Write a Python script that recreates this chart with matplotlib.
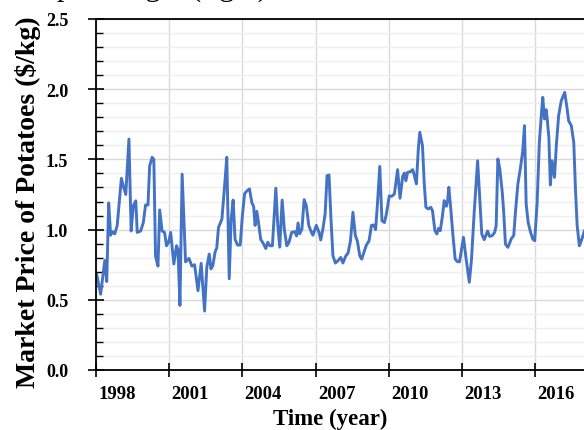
import matplotlib
matplotlib.use("Agg")
import matplotlib.pyplot as plt
from matplotlib.ticker import MultipleLocator, FixedLocator, NullFormatter

# monthly-ish market price of potatoes
time_year = [
    1998.03, 1998.19, 1998.36, 1998.44, 1998.52, 1998.60, 1998.67, 1998.77, 1998.87,
    1999.04, 1999.12, 1999.22, 1999.35, 1999.44, 1999.53, 1999.63, 1999.69, 1999.83, 1999.94,
    2000.03, 2000.13, 2000.20, 2000.30, 2000.37, 2000.44, 2000.54, 2000.61, 2000.71, 2000.81,
    2000.89, 2000.98, 2001.06, 2001.19, 2001.30, 2001.36, 2001.44, 2001.53, 2001.67, 2001.81,
    2001.93, 2002.04, 2002.18, 2002.31, 2002.45, 2002.54, 2002.64, 2002.71, 2002.79, 2002.88,
    2002.95, 2003.02, 2003.16, 2003.27, 2003.36, 2003.46, 2003.54, 2003.62, 2003.70, 2003.80,
    2003.91, 2004.00, 2004.09, 2004.18, 2004.29, 2004.39, 2004.46, 2004.52, 2004.59, 2004.66,
    2004.75, 2004.86, 2004.96, 2005.04, 2005.13, 2005.23, 2005.37, 2005.45, 2005.53, 2005.63,
    2005.72, 2005.82, 2005.91, 2006.02, 2006.15, 2006.22, 2006.28, 2006.35, 2006.44, 2006.53,
    2006.62, 2006.72, 2006.83, 2006.89, 2007.03, 2007.14, 2007.21, 2007.30, 2007.39, 2007.47,
    2007.55, 2007.63, 2007.71, 2007.81, 2007.92, 2008.03, 2008.12, 2008.23, 2008.33, 2008.43,
    2008.53, 2008.63, 2008.71, 2008.81, 2008.89, 2008.98, 2009.08, 2009.19, 2009.29, 2009.38,
    2009.46, 2009.53, 2009.63, 2009.72, 2009.82, 2009.90, 2010.02, 2010.12, 2010.23, 2010.36,
    2010.46, 2010.57, 2010.64, 2010.70, 2010.77, 2010.88, 2010.98, 2011.05, 2011.13, 2011.21,
    2011.27, 2011.38, 2011.45, 2011.52, 2011.62, 2011.72, 2011.79, 2011.89, 2011.97, 2012.04,
    2012.11, 2012.20, 2012.27, 2012.36, 2012.41, 2012.46, 2012.54, 2012.63, 2012.72, 2012.82,
    2012.90, 2012.98, 2013.06, 2013.17, 2013.30, 2013.39, 2013.50, 2013.64, 2013.73, 2013.81,
    2013.91, 2014.05, 2014.13, 2014.24, 2014.34, 2014.40, 2014.47, 2014.55, 2014.65, 2014.71,
    2014.78, 2014.88, 2014.96, 2015.03, 2015.12, 2015.19, 2015.29, 2015.40, 2015.49, 2015.56,
    2015.63, 2015.71, 2015.81, 2015.90, 2015.98, 2016.08, 2016.17, 2016.26, 2016.31, 2016.38,
    2016.45, 2016.49, 2016.56, 2016.62, 2016.69, 2016.79, 2016.87, 2016.96, 2017.07, 2017.21,
    2017.30, 2017.37, 2017.48, 2017.58, 2017.65, 2017.72, 2017.81, 2017.89, 2018.02,
]
price = [
    0.68, 0.54, 0.78, 0.63, 1.19, 0.96, 0.985, 0.97, 1.03,
    1.365, 1.31, 1.25, 1.645, 0.99, 1.17, 1.205, 0.98, 0.99, 1.05,
    1.175, 1.175, 1.455, 1.515, 1.50, 0.81, 0.74, 1.14, 0.99, 0.98,
    0.885, 0.91, 0.98, 0.755, 0.885, 0.86, 0.46, 1.395, 0.77, 0.795,
    0.74, 0.75, 0.565, 0.76, 0.42, 0.73, 0.826, 0.72, 0.745, 0.84,
    0.87, 1.015, 1.075, 1.31, 1.515, 0.65, 1.075, 1.21, 0.93, 0.89,
    0.89, 1.10, 1.255, 1.275, 1.29, 1.19, 1.165, 1.03, 1.13, 1.05,
    0.93, 0.90, 0.865, 0.91, 0.885, 0.885, 1.295, 1.03, 0.875, 1.21,
    1.00, 0.885, 0.91, 0.98, 0.985, 0.955, 1.047, 0.97, 1.005, 1.213,
    1.17, 1.03, 0.98, 0.96, 1.03, 0.98, 0.926, 1.005, 1.11, 1.384,
    1.389, 1.075, 0.814, 0.762, 0.779, 0.802, 0.762, 0.81, 0.833, 0.92,
    1.123, 0.957, 0.92, 0.814, 0.79, 0.838, 0.89, 0.92, 1.03, 1.033,
    1.0, 1.17, 1.45, 1.063, 1.05, 1.11, 1.24, 1.237, 1.254, 1.427,
    1.223, 1.38, 1.403, 1.348, 1.408, 1.412, 1.427, 1.384, 1.325, 1.574,
    1.693, 1.598, 1.337, 1.159, 1.147, 1.159, 1.135, 0.992, 0.969, 1.009,
    0.992, 1.099, 1.206, 1.166, 1.206, 1.301, 1.147, 0.957, 0.79, 0.771,
    0.771, 0.857, 0.945, 0.79, 0.625, 0.79, 1.123, 1.49, 1.218, 0.969,
    0.928, 0.99, 0.952, 0.957, 0.981, 1.028, 1.503, 1.432, 1.266, 1.123,
    0.897, 0.874, 0.909, 0.938, 0.957, 1.123, 1.325, 1.444, 1.562, 1.74,
    1.182, 1.052, 0.981, 0.933, 0.921, 1.194, 1.622, 1.835, 1.942, 1.788,
    1.854, 1.793, 1.657, 1.318, 1.49, 1.372, 1.61, 1.811, 1.918, 1.977,
    1.871, 1.776, 1.74, 1.622, 1.289, 1.028, 0.885, 0.921, 0.99,
]
tick_years = [1998, 2001, 2004, 2007, 2010, 2013, 2016]
tick_labels = ["1998", "2001", "2004", "2007", "2010", "2013", "2016"]

serif = ["Liberation Serif", "DejaVu Serif"]

fig = plt.figure(figsize=(5.84, 4.31), dpi=100)
ax = fig.add_axes([96 / 584, 60 / 431, 1 - 96 / 584, 351 / 431])

ax.yaxis.set_major_locator(MultipleLocator(0.5))
ax.yaxis.set_minor_locator(MultipleLocator(0.1))
ax.grid(which="major", axis="both", color="#d9d9d9", lw=1.0)
ax.grid(which="minor", axis="y", color="#efefef", lw=1.0)
ax.set_axisbelow(True)

ax.plot(time_year, price, color="#4472C4", lw=2.1, solid_joinstyle="round")

ax.set_xlim(1998, 2018)
ax.set_ylim(0, 2.5)

# year ticks carry the marks and grid; the labels hang to the right of each
# tick, so they go on invisible minor ticks
ax.xaxis.set_major_locator(FixedLocator(tick_years))
ax.xaxis.set_major_formatter(NullFormatter())
ax.xaxis.set_minor_locator(FixedLocator([y + 0.86 for y in tick_years]))
ax.set_xticklabels(tick_labels, minor=True, fontfamily=serif,
                   fontweight="bold", fontsize=13.5)

ax.set_yticklabels([f"{v:.1f}" for v in ax.get_yticks()], fontfamily=serif,
                   fontweight="bold", fontsize=13)

ax.tick_params(axis="x", which="major", direction="inout", length=10, width=1.2)
ax.tick_params(axis="x", which="minor", length=0, pad=11)
ax.tick_params(axis="y", which="major", direction="inout", length=12, width=1.2, pad=14)
ax.tick_params(axis="y", which="minor", direction="in", length=5, width=1.0)

for side in ["left", "bottom", "top"]:
    ax.spines[side].set_color("black")
    ax.spines[side].set_linewidth(1.3)
ax.spines["right"].set_visible(False)

ax.set_xlabel("Time (year)", fontfamily=serif, fontweight="bold", fontsize=16.5)
ax.xaxis.set_label_coords((330 - 96) / 488, -0.108)
ax.set_ylabel("Market Price of Potatoes ($/kg)", fontfamily=serif, fontweight="bold",
              fontsize=20)
ax.yaxis.set_label_coords(-0.113, 0.48)

# caption line of the page above, cut off by the crop
fig.text(-10 / 584, 1 + 4 / 431, "price per weight (right).", fontfamily=serif,
         fontsize=21.5, ha="left", va="baseline")

fig.savefig("out.png", dpi=100)
